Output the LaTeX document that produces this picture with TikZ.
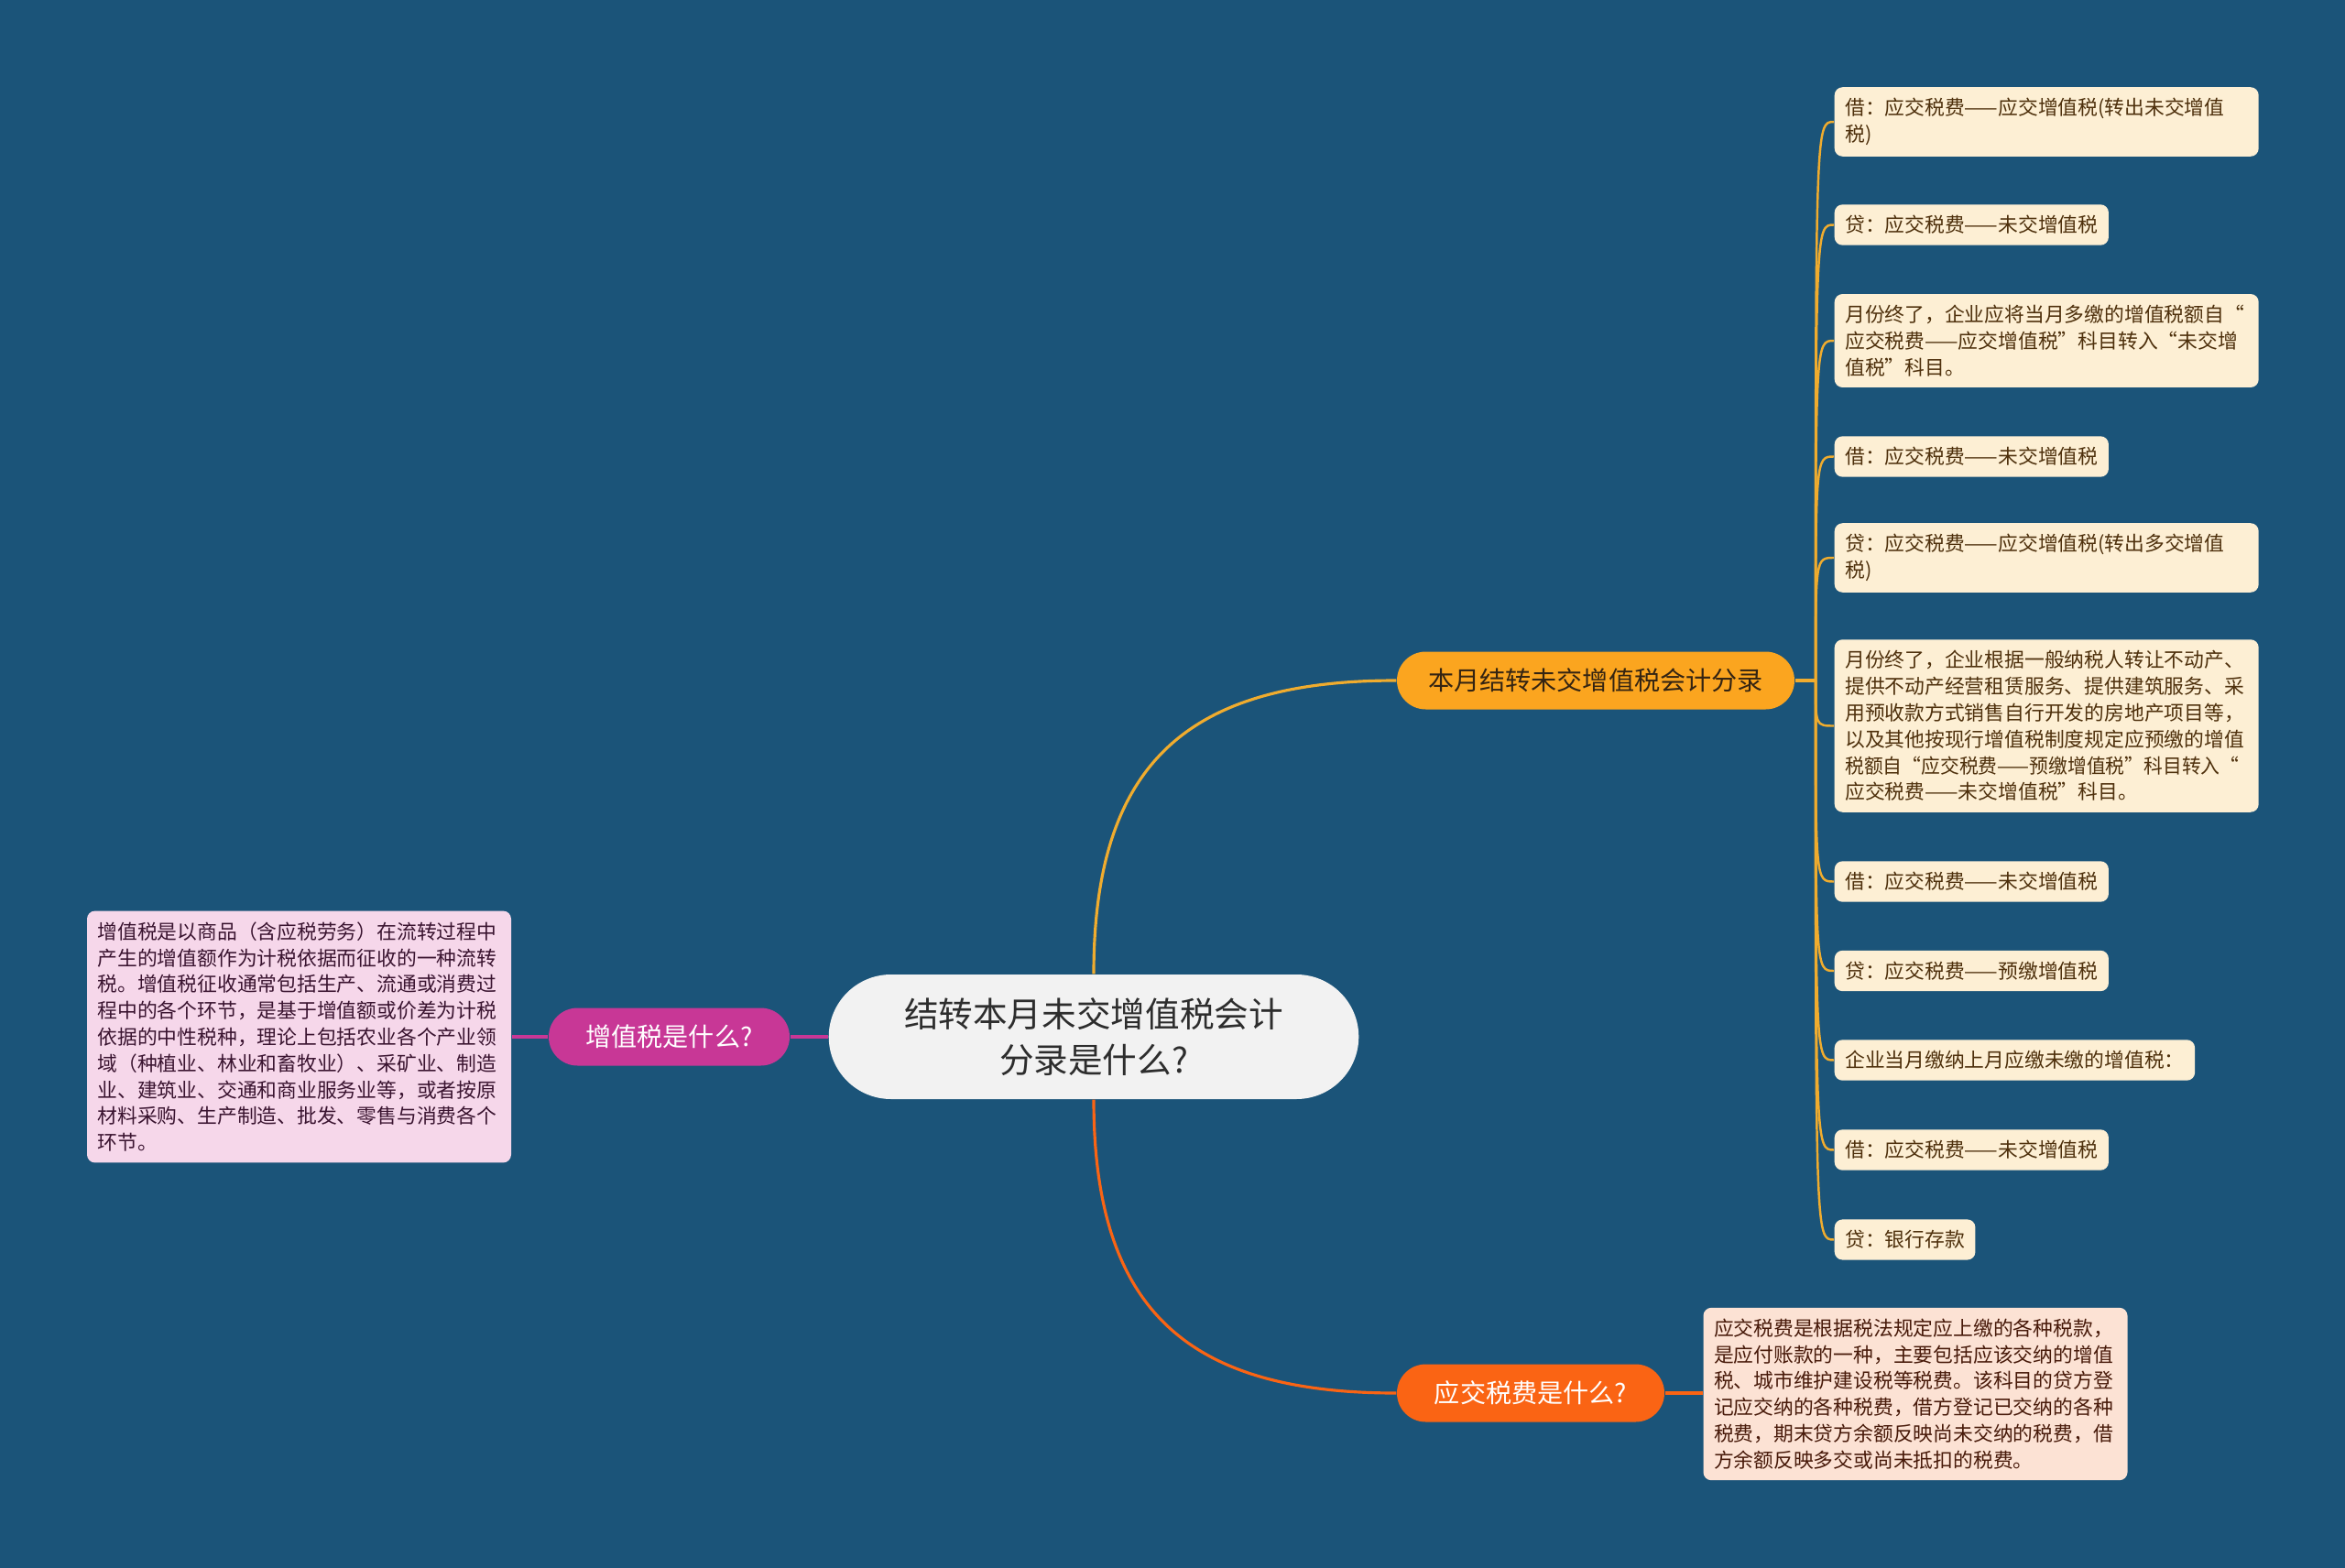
\documentclass[tikz,border=0pt]{standalone}
\usepackage{fontspec}
\setmainfont{Noto Sans CJK SC}
\usetikzlibrary{shapes.misc}

\definecolor{bgblue}{RGB}{27,84,121}
\definecolor{rootgrey}{RGB}{242,242,242}
\definecolor{rootink}{RGB}{45,45,45}
\definecolor{amber}{RGB}{251,165,31}
\definecolor{amberline}{RGB}{240,172,46}
\definecolor{amberink}{RGB}{52,36,18}
\definecolor{cream}{RGB}{253,239,212}
\definecolor{creamink}{RGB}{78,48,12}
\definecolor{plum}{RGB}{200,55,150}
\definecolor{pinkbox}{RGB}{246,215,234}
\definecolor{pinkink}{RGB}{58,20,48}
\definecolor{flame}{RGB}{250,100,20}
\definecolor{peach}{RGB}{252,226,212}
\definecolor{peachink}{RGB}{72,26,10}

\begin{document}
\begin{tikzpicture}[
    root/.style={rounded rectangle, fill=rootgrey, text=rootink, minimum width=6.02cm, minimum height=1.36cm, align=center, font=\fontsize{10.7}{14}\selectfont},
    topic/.style={rounded rectangle, minimum height=0.63cm, inner sep=0pt, font=\fontsize{8}{10}\selectfont},
    leaf/.style={rounded corners=2.5pt, fill=cream, text=creamink, anchor=west, align=left, inner xsep=0.115cm, inner ysep=0.12cm, font=\fontsize{6.2}{8.2}\selectfont},
    wide/.style={text width=4.40cm},
    note/.style={rounded corners=2.5pt, align=left, text width=4.40cm, inner xsep=0.115cm, inner ysep=0.12cm, font=\fontsize{6.2}{8.2}\selectfont},
    link/.style={line width=0.9pt},
    twig/.style={line width=0.7pt, amberline}
]
\fill[bgblue] (0,0) rectangle (25.6,-17.12);
\useasboundingbox (0,0) rectangle (25.6,-17.12);

% centre and main branches
\node[root] (c) at (11.94,-11.32) {结转本月未交增值税会计\\分录是什么?};
\node[topic, fill=amber, text=amberink, minimum width=4.34cm] (o) at (17.42,-7.43) {本月结转未交增值税会计分录};
\node[topic, fill=plum, text=white, minimum width=2.63cm] (m) at (7.305,-11.32) {增值税是什么?};
\node[topic, fill=flame, text=white, minimum width=2.92cm] (r) at (16.71,-15.21) {应交税费是什么?};

% notes
\node[note, fill=pinkbox, text=pinkink] (mn) at (3.265,-11.32) {增值税是以商品（含应税劳务）在流转过程中\\产生的增值额作为计税依据而征收的一种流转\\税。增值税征收通常包括生产、流通或消费过\\程中的各个环节，是基于增值额或价差为计税\\依据的中性税种，理论上包括农业各个产业领\\域（种植业、林业和畜牧业）、采矿业、制造\\业、建筑业、交通和商业服务业等，或者按原\\材料采购、生产制造、批发、零售与消费各个\\环节。};
\node[note, fill=peach, text=peachink] (rn) at (20.91,-15.22) {应交税费是根据税法规定应上缴的各种税款，\\是应付账款的一种，主要包括应该交纳的增值\\税、城市维护建设税等税费。该科目的贷方登\\记应交纳的各种税费，借方登记已交纳的各种\\税费，期末贷方余额反映尚未交纳的税费，借\\方余额反映多交或尚未抵扣的税费。};

% entries
\node[leaf, wide] (l1) at (20.02,-1.33) {借：应交税费——应交增值税(转出未交增值\\税)};
\node[leaf] (l2) at (20.02,-2.455) {贷：应交税费——未交增值税};
\node[leaf, wide] (l3) at (20.02,-3.72) {月份终了，企业应将当月多缴的增值税额自“\\应交税费——应交增值税”科目转入“未交增\\值税”科目。};
\node[leaf] (l4) at (20.02,-4.985) {借：应交税费——未交增值税};
\node[leaf, wide] (l5) at (20.02,-6.09) {贷：应交税费——应交增值税(转出多交增值\\税)};
\node[leaf, wide] (l6) at (20.02,-7.925) {月份终了，企业根据一般纳税人转让不动产、\\提供不动产经营租赁服务、提供建筑服务、采\\用预收款方式销售自行开发的房地产项目等，\\以及其他按现行增值税制度规定应预缴的增值\\\scalebox{0.955}[1]{税额自“应交税费——预缴增值税”科目转入“}\\应交税费——未交增值税”科目。};
\node[leaf] (l7) at (20.02,-9.625) {借：应交税费——未交增值税};
\node[leaf] (l8) at (20.02,-10.6) {贷：应交税费——预缴增值税};
\node[leaf] (l9) at (20.02,-11.575) {企业当月缴纳上月应缴未缴的增值税：};
\node[leaf] (l10) at (20.02,-12.555) {借：应交税费——未交增值税};
\node[leaf] (l11) at (20.02,-13.535) {贷：银行存款};

\coordinate (hub) at (19.82,-7.43);

\draw[link, amberline] (c.north) .. controls (11.94,-8.3) and (13.0,-7.43) .. (o.west);
\draw[link, flame] (c.south) .. controls (11.94,-14.34) and (13.0,-15.21) .. (r.west);
\draw[link, plum] (c.west) -- (m.east);
\draw[link, plum] (m.west) -- (mn.east);
\draw[link, flame] (r.east) -- (r.east -| rn.west);
\draw[link, amberline] (o.east) -- (hub);

\draw[twig] (hub) .. controls (hub |- l1.west) .. (l1.west);
\draw[twig] (hub) .. controls (hub |- l2.west) .. (l2.west);
\draw[twig] (hub) .. controls (hub |- l3.west) .. (l3.west);
\draw[twig] (hub) .. controls (hub |- l4.west) .. (l4.west);
\draw[twig] (hub) .. controls (hub |- l5.west) .. (l5.west);
\draw[twig] (hub) .. controls (hub |- l6.west) .. (l6.west);
\draw[twig] (hub) .. controls (hub |- l7.west) .. (l7.west);
\draw[twig] (hub) .. controls (hub |- l8.west) .. (l8.west);
\draw[twig] (hub) .. controls (hub |- l9.west) .. (l9.west);
\draw[twig] (hub) .. controls (hub |- l10.west) .. (l10.west);
\draw[twig] (hub) .. controls (hub |- l11.west) .. (l11.west);
\end{tikzpicture}
\end{document}
